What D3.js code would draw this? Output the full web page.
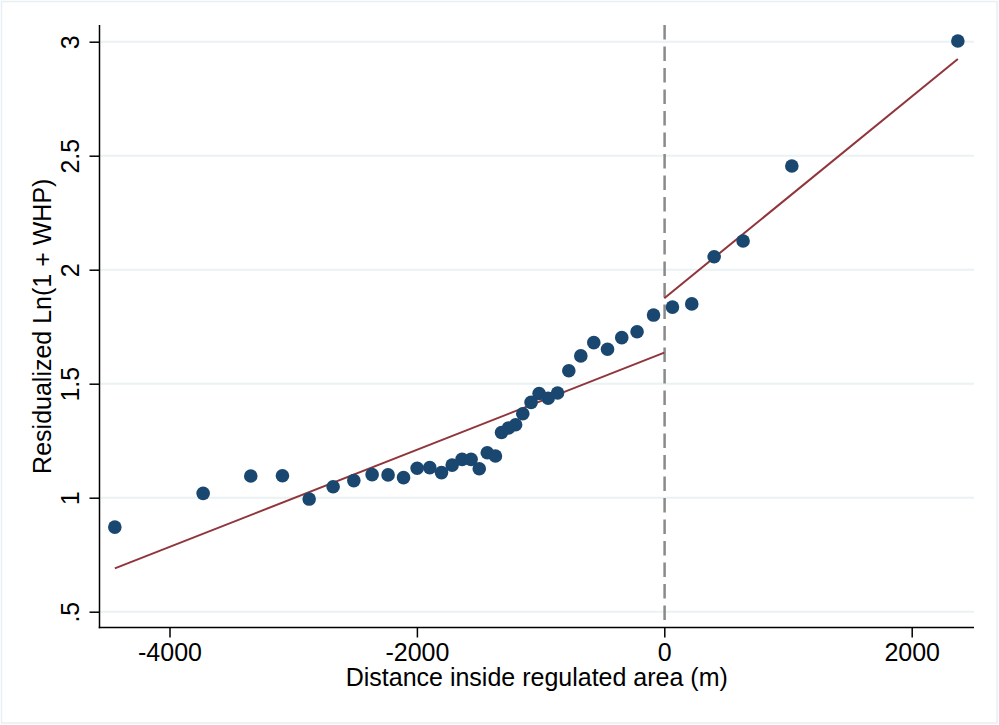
<!DOCTYPE html>
<html>
<head>
<meta charset="utf-8">
<script src="https://cdn.jsdelivr.net/npm/d3@7"></script>
<style>
  html, body { margin: 0; padding: 0; background: #ffffff; }
  svg { display: block; }
  text { font-family: Arial, "Liberation Sans", sans-serif; fill: #000; }
</style>
</head>
<body>
<svg id="chart" width="999" height="725"></svg>
<script>
// ---- Data ----
const distance = [-4442, -3728, -3343, -3087, -2871, -2677, -2510, -2362, -2233, -2108,
  -1998, -1896, -1801, -1715, -1635, -1562, -1496, -1431, -1365, -1316,
  -1259, -1202, -1144, -1077, -1012, -939, -863, -772, -675, -570,
  -459, -344, -220, -87, 66, 222, 403, 637, 1031, 2373];
const residLnWHP = [0.871, 1.019, 1.095, 1.096, 0.994, 1.048, 1.075, 1.101, 1.100, 1.088,
  1.129, 1.132, 1.110, 1.143, 1.168, 1.168, 1.127, 1.197, 1.183, 1.286,
  1.306, 1.320, 1.368, 1.418, 1.457, 1.436, 1.459, 1.557, 1.622, 1.680,
  1.651, 1.702, 1.728, 1.801, 1.836, 1.850, 2.057, 2.126, 2.455, 3.003];
const fitLeftX = [-4442, 0];
const fitLeftY = [0.690, 1.636];
const fitRightX = [0, 2373];
const fitRightY = [1.875, 2.924];
const xTicks = [-4000, -2000, 0, 2000];
const yTicks = [0.5, 1, 1.5, 2, 2.5, 3];
const yTickLabels = [".5", "1", "1.5", "2", "2.5", "3"];
const cutoff = [0];

// ---- Layout ----
const svg = d3.select("#chart");
const plotLeft = 99.5, plotRight = 974, plotTop = 25, plotBottom = 627.5;

const x = d3.scaleLinear().domain([-4000, 2000]).range([169.5, 911.7]);
const y = d3.scaleLinear().domain([0.5, 3]).range([611.7, 41.7]);

// outer frame
svg.append("rect")
  .attr("x", 1.5).attr("y", 1.5).attr("width", 995.5).attr("height", 721.5)
  .attr("fill", "#ffffff").attr("stroke", "#e8eff2").attr("stroke-width", 1.5);

// grid lines
svg.append("g").selectAll("line").data(yTicks).join("line")
  .attr("x1", plotLeft + 1).attr("x2", plotRight)
  .attr("y1", d => y(d)).attr("y2", d => y(d))
  .attr("stroke", "#eaf2f3").attr("stroke-width", 2);

// dashed vertical line at cutoff
svg.append("g").selectAll("line").data(cutoff).join("line")
  .attr("x1", d => x(d) + 0.3).attr("x2", d => x(d) + 0.3)
  .attr("y1", plotTop).attr("y2", plotBottom)
  .attr("stroke", "#8a8a8a").attr("stroke-width", 2.5)
  .attr("stroke-dasharray", "14.5,7");

// fit lines
const line = d3.line().x(d => x(d[0])).y(d => y(d[1]));
svg.append("path")
  .datum(fitLeftX.map((v, i) => [v, fitLeftY[i]]))
  .attr("d", line).attr("fill", "none")
  .attr("stroke", "#90353b").attr("stroke-width", 2);
svg.append("path")
  .datum(fitRightX.map((v, i) => [v, fitRightY[i]]))
  .attr("d", line).attr("fill", "none")
  .attr("stroke", "#90353b").attr("stroke-width", 2);

// points
svg.append("g").selectAll("circle").data(distance).join("circle")
  .attr("cx", d => x(d))
  .attr("cy", (d, i) => y(residLnWHP[i]))
  .attr("r", 6.8)
  .attr("fill", "#1a476f");

// x axis
const xAxis = d3.axisBottom(x).tickValues(xTicks).tickSize(10).tickPadding(5)
  .tickFormat(d3.format("d"));
const gx = svg.append("g").attr("transform", `translate(0,${plotBottom})`).call(xAxis);
gx.select(".domain").remove();
gx.selectAll(".tick line").attr("stroke", "#000").attr("stroke-width", 1.5);
gx.selectAll(".tick text").attr("font-size", 25).attr("font-family", "Arial, 'Liberation Sans', sans-serif")
  .attr("dy", null).attr("y", 33).text(d => d < 0 ? "-" + Math.abs(d) : d);
svg.append("line").attr("x1", plotLeft - 0.75).attr("x2", plotRight)
  .attr("y1", plotBottom).attr("y2", plotBottom)
  .attr("stroke", "#000").attr("stroke-width", 1.5);

// y axis
const yAxis = d3.axisLeft(y).tickValues(yTicks).tickSize(10)
  .tickFormat((d, i) => yTickLabels[i]);
const gy = svg.append("g").attr("transform", `translate(${plotLeft},0)`).call(yAxis);
gy.select(".domain").remove();
gy.selectAll(".tick line").attr("stroke", "#000").attr("stroke-width", 1.5);
gy.selectAll(".tick text")
  .attr("font-size", 25).attr("font-family", "Arial, 'Liberation Sans', sans-serif")
  .attr("x", null).attr("dy", null)
  .attr("text-anchor", "middle")
  .attr("transform", "translate(-21,0) rotate(-90)");
svg.append("line").attr("x1", plotLeft).attr("x2", plotLeft)
  .attr("y1", plotTop).attr("y2", plotBottom + 0.75)
  .attr("stroke", "#000").attr("stroke-width", 1.5);

// axis titles
svg.append("text")
  .attr("x", (plotLeft + plotRight) / 2).attr("y", 686)
  .attr("text-anchor", "middle").attr("font-size", 25)
  .text("Distance inside regulated area (m)");
svg.append("text")
  .attr("transform", `translate(51,${(plotTop + plotBottom) / 2}) rotate(-90)`)
  .attr("text-anchor", "middle").attr("font-size", 25)
  .text("Residualized Ln(1 + WHP)");
</script>
</body>
</html>
